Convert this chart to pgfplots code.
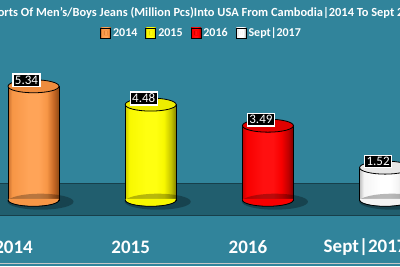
\documentclass[border=0pt]{standalone}
\usepackage{pgfplots}
\pgfplotsset{compat=1.18}
\usepackage{fontspec}
\setmainfont{Carlito}
\definecolor{bgteal}{HTML}{31849B}
\definecolor{floorc}{HTML}{215E6E}
\definecolor{floorl}{HTML}{173F4A}
% orange
\definecolor{oA}{HTML}{C8702E}
\definecolor{oM}{HTML}{F79646}
\definecolor{oH}{HTML}{FFA458}
\definecolor{oD}{HTML}{C46624}
\definecolor{oE}{HTML}{8E4A16}
\definecolor{oT}{HTML}{EE8C3E}
% yellow
\definecolor{yA}{HTML}{CCCC00}
\definecolor{yM}{HTML}{F8F800}
\definecolor{yH}{HTML}{FFFF10}
\definecolor{yD}{HTML}{C4C400}
\definecolor{yE}{HTML}{808000}
\definecolor{yT}{HTML}{EDED00}
% red
\definecolor{rA}{HTML}{C00000}
\definecolor{rM}{HTML}{F80000}
\definecolor{rH}{HTML}{FF1010}
\definecolor{rD}{HTML}{C00000}
\definecolor{rE}{HTML}{7A0000}
\definecolor{rT}{HTML}{E00000}
% white
\definecolor{wA}{HTML}{BFBFBF}
\definecolor{wM}{HTML}{F4F4F4}
\definecolor{wH}{HTML}{FFFFFF}
\definecolor{wD}{HTML}{C8C8C8}
\definecolor{wE}{HTML}{8C8C8C}
\definecolor{wT}{HTML}{E6E6E6}
\newcommand\cylshade[6]{%
  \pgfdeclarehorizontalshading{#1}{100bp}{color(0bp)=(#2); color(25bp)=(#2); color(29bp)=(#3);
    color(45bp)=(#4); color(55bp)=(#4); color(63bp)=(#3); color(70bp)=(#5); color(75bp)=(#6); color(100bp)=(#6)}}
\cylshade{ocyl}{oA}{oM}{oH}{oD}{oE}
\cylshade{ycyl}{yA}{yM}{yH}{yD}{yE}
\cylshade{rcyl}{rA}{rM}{rH}{rD}{rE}
\cylshade{wcyl}{wA}{wM}{wH}{wD}{wE}
\pgfdeclareplotmark{cyltop}{%
  \pgfpathellipse{\pgfpointorigin}{\pgfpoint{25.5pt}{0pt}}{\pgfpoint{0pt}{6.5pt}}%
  \pgfusepathqfillstroke}
\pgfdeclareplotmark{cylbot}{%
  \pgfpathmoveto{\pgfpoint{-25pt}{1.2pt}}%
  \pgfpathlineto{\pgfpoint{-25pt}{0pt}}%
  \pgfpatharc{180}{360}{25pt and 6pt}%
  \pgfpathlineto{\pgfpoint{25pt}{1.2pt}}%
  \pgfpathclose\pgfusepathqfill
  \pgfpathmoveto{\pgfpoint{-25.5pt}{0pt}}%
  \pgfpatharc{180}{360}{25.5pt and 6.3pt}%
  \pgfusepathqstroke}
\pgfdeclareplotmark{shadow}{%
  \pgfpathellipse{\pgfpointorigin}{\pgfpoint{33pt}{0pt}}{\pgfpoint{0pt}{8pt}}%
  \pgfusepathqfill}
\pgfplotsset{
  leg/.style={legend image code/.code={%
    \fill[black] (0pt,-5pt) rectangle (10pt,5pt);
    \fill[#1] (2.8pt,-2.2pt) rectangle (7.2pt,2.2pt);}},
  cyl/.style={ybar, bar width=51pt, bar shift=0pt, draw=black, line width=0.8pt, shading angle=0},
}
\begin{document}
\begin{tikzpicture}
\path[use as bounding box] (0,0) rectangle (400pt,266pt);
\clip (0,0) rectangle (400pt,266pt);
\begin{axis}[
  at={(0,0)}, anchor=south west,
  scale only axis, width=400pt, height=266pt,
  xmin=-0.286, xmax=3.127, ymin=-3.099, ymax=9.390,
  axis background/.style={fill=bgteal},
  axis line style={draw=none},
  major tick length=0pt,
  ytick=\empty,
  xtick={0,1,2,3},
  xticklabels={2014,2015,2016,Sept|2017},
  xticklabel style={font=\fontsize{19}{22}\selectfont\bfseries, text=white, anchor=center, xshift=-20pt, yshift=19pt},
  clip=false,
  legend columns=4,
  legend style={at={(rel axis cs:0.504,0.876)}, anchor=center, draw=none, fill=none,
    font=\fontsize{12}{14}\selectfont\bfseries, text=white,
    /tikz/every even column/.append style={column sep=6pt},
    /tikz/every odd column/.append style={column sep=0pt}},
]
% floor band
\fill[floorc] (axis cs:-1,-0.70) rectangle (axis cs:5,0.77);
\draw[floorl, line width=0.8pt] (axis cs:-1,0.77) -- (axis cs:5,0.77);
\draw[floorl, line width=0.8pt] (axis cs:-1,-0.70) -- (axis cs:5,-0.70);
\draw[gray!45, line width=1pt] (axis cs:-1,-3.0) -- (axis cs:5,-3.0);
% shadows
\addplot[only marks, mark=shadow, mark options={fill=black, fill opacity=0.28, draw=none}, forget plot]
  coordinates {(0.06,-0.08) (1.06,-0.08) (2.06,-0.08) (3.06,-0.08)};
% bars
\addplot[cyl, shading=ocyl, leg=oM] coordinates {(0,5.34)};
\addlegendentry{2014}
\addplot[cyl, shading=ycyl, leg=yellow] coordinates {(1,4.48)};
\addlegendentry{2015}
\addplot[cyl, shading=rcyl, leg=red] coordinates {(2,3.49)};
\addlegendentry{2016}
\addplot[cyl, shading=wcyl, leg=white] coordinates {(3,1.52)};
\addlegendentry{Sept|2017}
% bottoms
\addplot[only marks, mark=cylbot, mark options={fill=oM, draw=black, line width=0.8pt}, forget plot] coordinates {(0,0)};
\addplot[only marks, mark=cylbot, mark options={fill=yM, draw=black, line width=0.8pt}, forget plot] coordinates {(1,0)};
\addplot[only marks, mark=cylbot, mark options={fill=rM, draw=black, line width=0.8pt}, forget plot] coordinates {(2,0)};
\addplot[only marks, mark=cylbot, mark options={fill=wM, draw=black, line width=0.8pt}, forget plot] coordinates {(3,0)};
% tops
\addplot[only marks, mark=cyltop, mark options={fill=oT, draw=black, line width=0.8pt}, forget plot] coordinates {(0,5.34)};
\addplot[only marks, mark=cyltop, mark options={fill=yT, draw=black, line width=0.8pt}, forget plot] coordinates {(1,4.48)};
\addplot[only marks, mark=cyltop, mark options={fill=rT, draw=black, line width=0.8pt}, forget plot] coordinates {(2,3.49)};
\addplot[only marks, mark=cyltop, mark options={fill=wT, draw=black, line width=0.8pt}, forget plot] coordinates {(3,1.52)};
% labels
\addplot[draw=none, mark=none, forget plot, point meta=explicit symbolic, nodes near coords,
  every node near coord/.append style={anchor=center, xshift=-7pt, yshift=6pt, fill=black, draw=white, line width=1.2pt, text=white, inner sep=2pt, font=\fontsize{13}{15}\selectfont}]
  coordinates {(0,5.34) [5.34] (1,4.48) [4.48] (2,3.49) [3.49] (3,1.52) [1.52]};
% title
\node[text=white, font=\fontsize{12.4}{14}\selectfont\bfseries] at (rel axis cs:0.5,0.953)
  {Imports Of Men's/Boys Jeans (Million Pcs)Into USA From Cambodia|2014 To Sept 2017};
\end{axis}
\end{tikzpicture}
\end{document}
